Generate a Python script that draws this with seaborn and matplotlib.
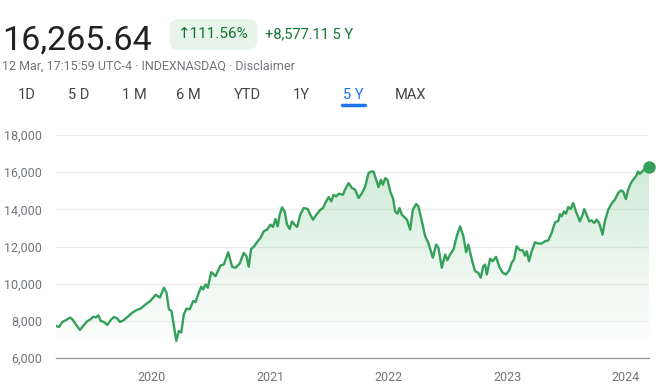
import numpy as np
import pandas as pd
import matplotlib
matplotlib.use('Agg')
import matplotlib.pyplot as plt
import matplotlib.dates as mdates
import seaborn as sns

# time positions (decimal years) and index level
years = [
    2019.194, 2019.220, 2019.248, 2019.276, 2019.312, 2019.332, 2019.360, 2019.396,
    2019.430, 2019.459, 2019.487, 2019.509, 2019.529, 2019.551, 2019.571, 2019.598,
    2019.627, 2019.655, 2019.683, 2019.711, 2019.733, 2019.767, 2019.800, 2019.838,
    2019.874, 2019.907, 2019.950, 2019.986, 2020.034, 2020.070, 2020.104, 2020.126,
    2020.146, 2020.168, 2020.188, 2020.208, 2020.230, 2020.250, 2020.272, 2020.295,
    2020.322, 2020.351, 2020.370, 2020.398, 2020.418, 2020.435, 2020.455, 2020.474,
    2020.503, 2020.539, 2020.581, 2020.609, 2020.646, 2020.679, 2020.707, 2020.743,
    2020.777, 2020.800, 2020.819, 2020.839, 2020.861, 2020.890, 2020.918, 2020.945,
    2020.974, 2021.002, 2021.024, 2021.044, 2021.063, 2021.080, 2021.100, 2021.122,
    2021.142, 2021.164, 2021.184, 2021.206, 2021.227, 2021.254, 2021.282, 2021.316,
    2021.338, 2021.361, 2021.389, 2021.423, 2021.445, 2021.465, 2021.493, 2021.515,
    2021.535, 2021.557, 2021.577, 2021.614, 2021.633, 2021.661, 2021.690, 2021.717,
    2021.745, 2021.774, 2021.801, 2021.829, 2021.849, 2021.871, 2021.894, 2021.913,
    2021.934, 2021.950, 2021.970, 2021.989, 2022.012, 2022.035, 2022.054, 2022.073,
    2022.090, 2022.110, 2022.130, 2022.153, 2022.180, 2022.203, 2022.231, 2022.250,
    2022.279, 2022.307, 2022.334, 2022.371, 2022.399, 2022.419, 2022.447, 2022.475,
    2022.494, 2022.517, 2022.545, 2022.573, 2022.601, 2022.629, 2022.652, 2022.671,
    2022.700, 2022.727, 2022.755, 2022.775, 2022.797, 2022.812, 2022.826, 2022.854,
    2022.876, 2022.904, 2022.932, 2022.961, 2022.988, 2023.016, 2023.036, 2023.056,
    2023.078, 2023.106, 2023.129, 2023.148, 2023.163, 2023.182, 2023.205, 2023.233,
    2023.260, 2023.289, 2023.317, 2023.345, 2023.373, 2023.401, 2023.429, 2023.443,
    2023.457, 2023.477, 2023.494, 2023.513, 2023.533, 2023.555, 2023.578, 2023.611,
    2023.634, 2023.648, 2023.668, 2023.690, 2023.710, 2023.732, 2023.752, 2023.774,
    2023.802, 2023.822, 2023.850, 2023.878, 2023.906, 2023.934, 2023.956, 2023.976,
    2023.999, 2024.018, 2024.041, 2024.060, 2024.083, 2024.102, 2024.116, 2024.144,
    2024.167, 2024.194,
]
level = [
    7725, 7671, 7939, 8030, 8175, 8084, 7816, 7510,
    7778, 7993, 8084, 8229, 8175, 8298, 7993, 7939,
    7778, 8046, 8207, 8122, 7939, 8046, 8229, 8443,
    8582, 8657, 8888, 9049, 9400, 9250, 9783, 9515,
    8620, 8529, 7725, 6921, 7457, 7371, 8352, 8657,
    8620, 9065, 9011, 9515, 9837, 9692, 9960, 9783,
    10619, 10405, 10978, 11032, 11691, 10909, 10855, 11086,
    11659, 11477, 10909, 11874, 11981, 12238, 12463, 12817,
    12908, 13176, 13053, 13482, 13085, 13712, 14103, 13889,
    13176, 12946, 13353, 13176, 13053, 13712, 14071, 14018,
    13712, 13444, 13712, 13980, 14071, 14339, 14661, 14425,
    14784, 14693, 14838, 14784, 15090, 15411, 15143, 15052,
    14607, 14875, 15229, 15947, 16033, 16033, 15588, 15197,
    15588, 15320, 15679, 15588, 14961, 14607, 13889, 13766,
    14071, 13712, 13589, 13444, 12908, 13980, 14286, 14157,
    13353, 12549, 12195, 11391, 12104, 11927, 10855, 11568,
    11262, 11570, 11836, 12549, 13085, 12549, 11691, 12104,
    11300, 10673, 10587, 10319, 10941, 11032, 10496, 11338,
    11209, 11445, 10909, 10587, 10496, 10726, 11123, 11300,
    12013, 11799, 11799, 11514, 11745, 11209, 11745, 12227,
    12158, 12158, 12281, 12335, 12731, 13290, 13380, 13740,
    13621, 13889, 13766, 14125, 14018, 14339, 13889, 13353,
    13712, 14018, 13712, 13353, 13406, 13267, 13444, 13267,
    12640, 13353, 13980, 14302, 14516, 14875, 15015, 14961,
    14554, 15052, 15411, 15588, 15765, 16033, 15910, 16086,
    16269, 16265.64,
]

y_ticks = [6000, 8000, 10000, 12000, 14000, 16000, 18000]
x_years = [2020, 2021, 2022, 2023, 2024]
tabs = ['1D', '5 D', '1 M', '6 M', 'YTD', '1Y', '5 Y', 'MAX']
tab_x = [27, 79, 134, 188, 247, 301, 353, 411]

sns.set_style('white')
plt.rcParams['font.family'] = ['Roboto', 'DejaVu Sans']

base = pd.Timestamp('2020-01-01')
dates = [base + pd.to_timedelta((y - 2020) * 365.25, unit='D') for y in years]
df = pd.DataFrame({'date': dates, 'level': level})

green = '#34a05a'
W, H = 660, 388
fig = plt.figure(figsize=(W / 100, H / 100), dpi=100)
ax = fig.add_axes([56 / W, 30 / H, 593 / W, 223 / H])

# gradient fill under the line
poly = ax.fill_between(df['date'], df['level'], 6000, color='none', lw=0)
xn = mdates.date2num(df['date'])
grad = np.zeros((256, 1, 4))
grad[:, 0, :3] = matplotlib.colors.to_rgb('#34a853')
grad[:, 0, 3] = np.linspace(0.0, 0.30, 256) ** 1.2
img = ax.imshow(grad, extent=[xn[0], xn[-1], 6000, 16300], aspect='auto',
                origin='lower', zorder=1)
path = poly.get_paths()[0]
img.set_clip_path(path, transform=ax.transData)

sns.lineplot(data=df, x='date', y='level', ax=ax, color=green, lw=1.7, zorder=3)
ax.plot([df['date'].iloc[-1]], [df['level'].iloc[-1]], 'o', color=green, ms=8,
        clip_on=False, zorder=4)

ax.set_xlim(df['date'].iloc[0], df['date'].iloc[-1])
ax.set_ylim(6000, 18000)
ax.set_yticks(y_ticks)
ax.set_yticklabels(['{:,}'.format(v) for v in y_ticks])
ax.set_xticks([pd.Timestamp('{}-01-01'.format(y)) for y in x_years])
ax.set_xticklabels([str(y) for y in x_years])
ax.set_xlabel('')
ax.set_ylabel('')
ax.grid(axis='y', color='#ececec', lw=0.9)
ax.set_axisbelow(True)
for s in ['top', 'right', 'left']:
    ax.spines[s].set_visible(False)
ax.spines['bottom'].set_color('#9aa0a6')
ax.spines['bottom'].set_linewidth(1.0)
ax.tick_params(axis='y', length=0, pad=10, labelsize=9, labelcolor='#70757a')
ax.tick_params(axis='x', direction='inout', length=7, width=1.3, color='#5f6368',
               pad=6, labelsize=9, labelcolor='#70757a')

# header
def fx(px):
    return px / W

def fy(py):
    return 1 - py / H

fig.text(fx(2), fy(50), '16,265.64', fontsize=24.5, color='#202124', va='baseline')
fig.text(fx(178), fy(34.5), '\u2191111.56%', fontsize=11, color='#137333', va='center',
         bbox=dict(boxstyle='round,pad=0.55,rounding_size=0.6', fc='#e6f4ea', ec='none'))
fig.text(fx(265), fy(34.5), '+8,577.11 5 Y', fontsize=10.5, color='#137333', va='center')
fig.text(fx(2), fy(66.5), '12 Mar, 17:15:59 UTC-4 \u00b7 INDEXNASDAQ \u00b7 Disclaimer',
         fontsize=9, color='#70757a', va='center')
for t, x in zip(tabs, tab_x):
    c = '#1a73e8' if t == '5 Y' else '#444746'
    fig.text(fx(x), fy(95), t, fontsize=10.5, color=c, ha='center', va='center')
fig.add_artist(matplotlib.lines.Line2D([fx(342), fx(365)], [fy(105.5), fy(105.5)],
                                       color='#1a73e8', lw=2.5, solid_capstyle='round'))

fig.savefig('out.png', dpi=100)
